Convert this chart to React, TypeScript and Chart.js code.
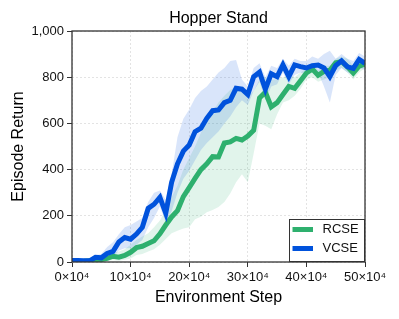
import React, { useEffect, useRef } from "react";
import { Chart, registerables } from "chart.js";
Chart.register(...registerables);

const TITLE = "Hopper Stand";
const X_TITLE = "Environment Step";
const Y_TITLE = "Episode Return";
const SERIES_NAMES = ["RCSE", "VCSE"];

// environment steps, in units of 10^4
const steps = [0,1,2,3,4,5,6,7,8,9,10,11,12,13,14,15,16,17,18,19,20,21,22,23,24,25,26,27,28,29,30,31,32,33,34,35,36,37,38,39,40,41,42,43,44,45,46,47,48,49,50];

const rcseMean = [3,2,3,5,6,10,16,25,21,28,42,62,68,80,92,122,160,195,222,283,322,362,400,425,456,455,515,520,535,528,545,570,710,735,672,690,725,760,752,785,818,835,808,825,830,862,867,845,818,848,857];
const rcseLow = [0,0,0,0,0,2,5,8,5,10,15,30,35,45,55,75,100,125,135,145,150,185,196,215,225,238,260,297,345,380,345,470,600,590,575,640,690,700,720,750,790,800,780,790,800,830,840,820,790,820,840];
const rcseHigh = [8,8,8,10,12,18,28,40,45,55,75,95,110,125,150,180,225,280,330,400,450,500,560,610,650,690,720,745,760,740,720,740,790,800,790,790,800,810,800,820,840,860,830,850,850,880,890,880,850,870,870];

const vcseMean = [6,7,5,5,20,18,37,46,87,106,99,121,150,232,250,280,211,345,425,480,506,564,579,622,655,658,690,700,752,748,725,802,822,748,815,802,853,802,853,846,840,850,853,840,802,850,871,845,838,877,860];
const vcseLow = [0,2,0,0,8,5,15,20,50,60,60,75,95,150,190,240,170,220,300,360,395,440,485,515,540,565,600,630,670,700,680,740,780,700,760,770,820,770,810,820,810,830,820,760,690,810,840,820,810,840,830];
const vcseHigh = [10,12,10,12,30,35,65,85,120,150,160,175,190,260,300,310,270,380,540,620,660,710,740,760,790,820,840,870,875,790,760,840,860,800,850,840,880,850,880,870,870,890,880,900,915,880,900,880,870,905,890];

const X_MAX = 50; // ×10^4
const Y_MAX = 1000;
const Y_STEP = 200;
const X_STEP = 10;

const GREEN = "rgb(46,176,110)";
const GREEN_FILL = "rgba(46,176,110,0.14)";
const BLUE = "rgb(0,82,220)";
const BLUE_FILL = "rgba(0,82,220,0.15)";
const FONT = "'Liberation Sans', Arial, Helvetica, sans-serif";

const pts = (arr: number[]) => arr.map((v, i) => ({ x: steps[i] * 10000, y: v }));

export default function App() {
  const ref = useRef<HTMLCanvasElement | null>(null);
  useEffect(() => {
    if (!ref.current) return;
    const framePlugin = {
      id: "frameAndExtras",
      afterDatasetsDraw(chart: any) {
        const { ctx, chartArea: a } = chart;
        ctx.save();
        ctx.strokeStyle = "#333";
        ctx.lineWidth = 1.3;
        ctx.strokeRect(a.left, a.top, a.right - a.left, a.bottom - a.top);
        // title
        ctx.fillStyle = "#000";
        ctx.font = `16px ${FONT}`;
        ctx.textAlign = "center";
        ctx.textBaseline = "middle";
        ctx.fillText(TITLE, (a.left + a.right) / 2, 19);
        // legend
        const bw = 76, bh = 43;
        const bx = a.right - bw, by = a.bottom - bh;
        ctx.fillStyle = "#fff";
        ctx.fillRect(bx, by, bw, bh);
        ctx.strokeStyle = "#333";
        ctx.lineWidth = 1;
        ctx.strokeRect(bx + 0.5, by + 0.5, bw - 1, bh - 1);
        const items = [
          { label: SERIES_NAMES[0], color: GREEN },
          { label: SERIES_NAMES[1], color: BLUE },
        ];
        items.forEach((it, k) => {
          const cy = by + 10.5 + k * 19;
          ctx.strokeStyle = it.color;
          ctx.lineWidth = 5;
          ctx.lineCap = "butt";
          ctx.beginPath();
          ctx.moveTo(bx + 3.5, cy);
          ctx.lineTo(bx + 24, cy);
          ctx.stroke();
          ctx.fillStyle = "#111";
          ctx.font = `13px ${FONT}`;
          ctx.textAlign = "left";
          ctx.textBaseline = "middle";
          ctx.fillText(it.label, bx + 33.5, cy);
        });
        ctx.restore();
      },
    };

    const chart = new Chart(ref.current, {
      type: "line",
      data: {
        datasets: [
          { label: "vcse", data: pts(vcseMean), borderColor: BLUE, borderWidth: 5, pointRadius: 0, fill: false, order: 0 },
          { label: "rcse", data: pts(rcseMean), borderColor: GREEN, borderWidth: 5, pointRadius: 0, fill: false, order: 1 },
          { label: "vLow", data: pts(vcseLow), borderWidth: 0, borderColor: "transparent", pointRadius: 0, fill: false, order: 2 },
          { label: "vHigh", data: pts(vcseHigh), borderWidth: 0, borderColor: "transparent", backgroundColor: BLUE_FILL, pointRadius: 0, fill: "-1", order: 3 },
          { label: "rLow", data: pts(rcseLow), borderWidth: 0, borderColor: "transparent", pointRadius: 0, fill: false, order: 4 },
          { label: "rHigh", data: pts(rcseHigh), borderWidth: 0, borderColor: "transparent", backgroundColor: GREEN_FILL, pointRadius: 0, fill: "-1", order: 5 },
        ],
      },
      options: {
        animation: false,
        responsive: false,
        devicePixelRatio: 1,
        layout: { padding: { top: 31, right: 34, left: 0, bottom: 0 } },
        plugins: {
          legend: { display: false },
          title: { display: false },
          tooltip: { enabled: false },
        },
        scales: {
          x: {
            type: "linear",
            min: 0,
            max: X_MAX * 10000,
            afterFit: (s: any) => { s.height = 57; },
            ticks: {
              stepSize: X_STEP * 10000,
              color: "#111",
              font: { size: 13, family: FONT },
              padding: 3,
              maxRotation: 0,
              callback: (v: any) => `${Math.round(Number(v) / 10000)}×10⁴`,
            },
            grid: { color: "#dcdcdc", lineWidth: 0.8, tickColor: "#333", tickLength: 5, tickWidth: 1, tickBorderDash: [] },
            border: { display: false, dash: [2, 2] },
            title: { display: true, text: X_TITLE, color: "#000", font: { size: 16, family: FONT }, padding: { top: 0, bottom: 11.4 } },
          },
          y: {
            type: "linear",
            min: 0,
            max: Y_MAX,
            afterFit: (s: any) => { s.width = 72; },
            ticks: {
              stepSize: Y_STEP,
              color: "#111",
              font: { size: 13, family: FONT },
              padding: 3,
              callback: (v: any) => Number(v).toLocaleString("en-US"),
            },
            grid: { color: "#dcdcdc", lineWidth: 0.8, tickColor: "#333", tickLength: 5, tickWidth: 1, tickBorderDash: [] },
            border: { display: false, dash: [2, 2] },
            title: { display: true, text: Y_TITLE, color: "#000", font: { size: 16, family: FONT }, padding: { top: 8.7, bottom: 0 } },
          },
        },
      },
      plugins: [framePlugin],
    } as any);
    return () => chart.destroy();
  }, []);
  return (
    <div style={{ position: "absolute", left: 0, top: 0, width: 399, height: 319, background: "#fff" }}>
      <canvas ref={ref} width={399} height={319} />
    </div>
  );
}
